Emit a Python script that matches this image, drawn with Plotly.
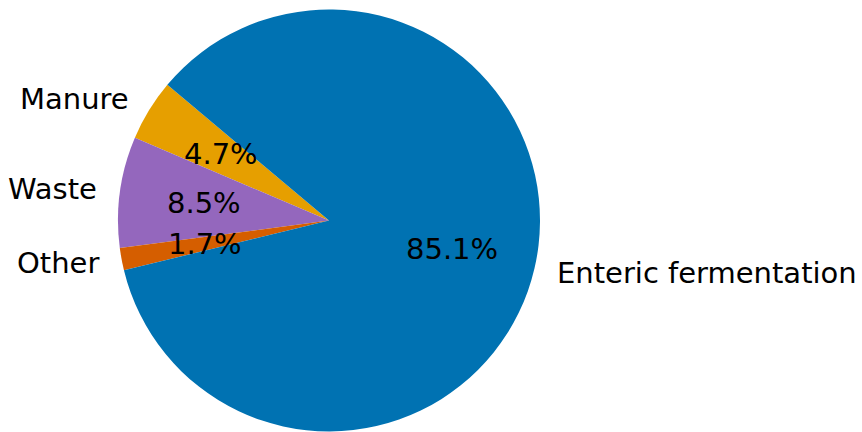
import math
import plotly.graph_objects as go

labels = ["Manure", "Waste", "Other", "Enteric fermentation"]
values = [4.7, 8.5, 1.7, 85.1]
colors = ["#E69F00", "#9467BD", "#D55E00", "#0072B2"]

W, H = 862, 432
CX, CY, R = 329.0, 220.5, 211.0   # pie centre / radius in pixels (top-left origin)
START = 140.0                      # degrees, counterclockwise from 3 o'clock
FONT = dict(family="DejaVu Sans", size=29, color="black")

total = sum(values)
# plotly (counterclockwise): first slice ENDS (clockwise edge) at 'rotation'
rotation = 90 - START - 360.0 * values[0] / total

fig = go.Figure(go.Pie(
    labels=labels, values=values, sort=False, direction="counterclockwise",
    rotation=rotation, textinfo="none", hoverinfo="label+percent",
    marker=dict(colors=colors, line=dict(width=0)),
    domain=dict(x=[(CX - R) / W, (CX + R) / W], y=[(H - CY - R) / H, (H - CY + R) / H]),
))

ann = []
cum = 0.0
for lab, v in zip(labels, values):
    mid = math.radians(START + 360.0 * (cum + v / 2) / total)
    cum += v
    c, s = math.cos(mid), math.sin(mid)
    px, py = CX + 0.6 * R * c, CY - 0.6 * R * s
    ann.append(dict(x=px / W, y=1 - py / H, xref="paper", yref="paper",
                    text=f"{100 * v / total:.1f}%", showarrow=False,
                    xanchor="center", yanchor="middle", font=FONT))
    lx, ly = CX + 1.1 * R * c, CY - 1.1 * R * s
    ann.append(dict(x=lx / W, y=1 - ly / H, xref="paper", yref="paper",
                    text=lab, showarrow=False,
                    xanchor="left" if c > 0 else "right", yanchor="middle", font=FONT))

fig.update_layout(width=W, height=H, margin=dict(l=0, r=0, t=0, b=0),
                  paper_bgcolor="white", plot_bgcolor="white",
                  showlegend=False, annotations=ann)
fig.write_html("out.html", config={"displayModeBar": False},
               post_script="document.body.style.margin='0';document.body.style.overflow='hidden';")
